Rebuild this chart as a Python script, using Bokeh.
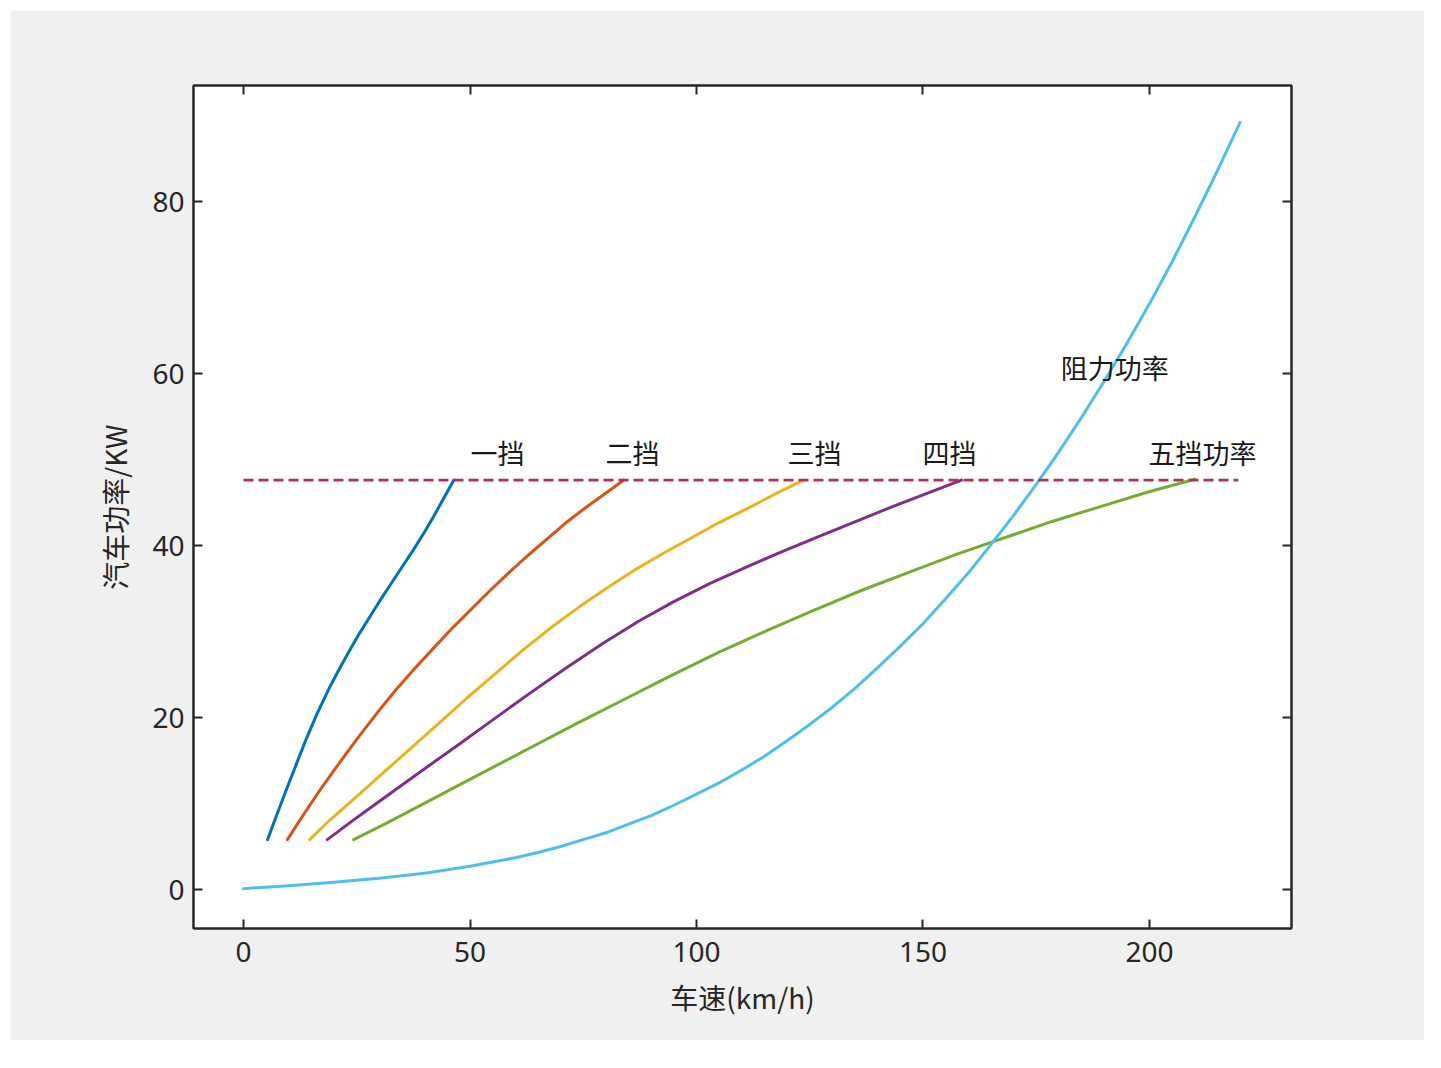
from bokeh.plotting import figure
from bokeh.models import Range1d, LinearAxis, FixedTicker
from bokeh.core.properties import value
from bokeh.embed import file_html
from bokeh.resources import INLINE

# ---- data ----
g1_v = [5.3, 7.0, 9.3, 11.9, 14.0, 16.2, 19.0, 21.0, 23.2, 25.5, 28.0, 30.0, 32.5, 35.0, 37.5, 40.0, 42.0, 44.2, 46.4]
g1_p = [5.8, 8.2, 11.4, 14.9, 17.7, 20.4, 23.5, 25.5, 27.6, 29.7, 31.8, 33.5, 35.5, 37.5, 39.5, 41.6, 43.4, 45.5, 47.6]

g2_v = [9.7, 12.6, 16.8, 21.0, 25.2, 30.2, 33.6, 37.8, 42.0, 46.1, 50.3, 54.5, 58.7, 62.9, 67.1, 71.3, 75.5, 79.7, 83.9]
g2_p = [5.8, 8.2, 11.5, 14.6, 17.6, 21.0, 23.2, 25.7, 28.1, 30.4, 32.6, 34.8, 36.9, 38.9, 40.8, 42.7, 44.4, 46.0, 47.6]

g3_v = [14.6, 18.5, 24.7, 30.9, 37.1, 43.3, 49.4, 55.6, 61.8, 68.0, 74.2, 80.3, 86.5, 92.7, 98.9, 105.1, 111.2, 117.4, 123.6]
g3_p = [5.8, 7.8, 10.7, 13.6, 16.5, 19.4, 22.3, 25.1, 27.9, 30.5, 32.9, 35.1, 37.2, 39.1, 40.9, 42.7, 44.3, 46.0, 47.6]

g4_v = [18.5, 23.8, 31.7, 39.6, 47.6, 55.5, 63.4, 71.3, 79.3, 87.2, 95.1, 103.0, 111.0, 118.9, 126.8, 134.7, 142.7, 150.6, 158.5]
g4_p = [5.8, 7.9, 10.9, 13.9, 16.9, 19.9, 22.9, 25.8, 28.6, 31.2, 33.5, 35.6, 37.5, 39.3, 41.0, 42.7, 44.4, 46.0, 47.6]

g5_v = [24.3, 31.5, 42.0, 52.5, 63.0, 73.5, 84.0, 94.5, 105.0, 115.5, 126.0, 136.5, 147.0, 157.5, 168.0, 178.5, 189.0, 199.5, 210.0]
g5_p = [5.8, 7.7, 10.6, 13.5, 16.4, 19.3, 22.1, 24.9, 27.6, 30.1, 32.5, 34.8, 36.9, 39.0, 40.9, 42.8, 44.5, 46.2, 47.7]

res_v = [0, 10, 20, 30, 40, 50, 55, 60, 65, 70, 75, 80, 85, 90, 95, 100, 105, 110, 115, 120, 125, 130,
         135, 140, 145, 150, 155, 160, 165, 170, 175, 180, 185, 190, 195, 200, 205, 210, 215, 220]
res_p = [0.1, 0.45, 0.85, 1.3, 1.9, 2.7, 3.2, 3.7, 4.3, 5.0, 5.8, 6.6, 7.6, 8.6, 9.8, 11.1, 12.4, 13.9, 15.5, 17.3, 19.2, 21.2,
         23.4, 25.8, 28.3, 30.9, 33.8, 36.8, 40.1, 43.5, 47.1, 50.9, 54.9, 59.1, 63.5, 68.1, 73.0, 78.2, 83.6, 89.2]

max_power = 47.6
max_v = [0.0, 219.6]

labels = ["一挡", "二挡", "三挡", "四挡", "五挡功率", "阻力功率"]
label_x = [50.1, 79.9, 120.1, 149.9, 199.8, 180.4]
label_y = [50.8, 50.8, 50.8, 50.8, 50.8, 60.7]

x_ticks = [0, 50, 100, 150, 200]
y_ticks = [0, 20, 40, 60, 80]

colors = ["#0072BD", "#D95319", "#EDB120", "#7E2F8E", "#77AC30", "#4DBEEE"]

TXT = "#262626"
NUM_FONT = "Noto Sans"
CJK_FONT = "Noto Sans CJK SC"

p = figure(width=1414, height=1030, output_backend="svg", toolbar_location=None,
           x_range=Range1d(-11.04, 231.35), y_range=Range1d(-4.53, 93.49),
           min_border_left=183, min_border_right=133, min_border_top=75, min_border_bottom=112,
           x_axis_label="车速(km/h)", y_axis_label="汽车功率/KW")
p.margin = (10, 0, 0, 10)
p.border_fill_color = "#f0f0f0"
p.background_fill_color = "white"
p.outline_line_color = TXT
p.outline_line_width = 2
p.grid.visible = False

for ax in (p.xaxis[0], p.yaxis[0]):
    ax.axis_line_color = TXT
    ax.axis_line_width = 2
    ax.major_tick_in = 9
    ax.major_tick_out = 0
    ax.major_tick_line_color = TXT
    ax.major_tick_line_width = 2
    ax.minor_tick_line_color = None
    ax.major_label_text_font = NUM_FONT
    ax.major_label_text_font_size = "28px"
    ax.major_label_text_color = TXT
    ax.axis_label_text_font = CJK_FONT
    ax.axis_label_text_font_size = "28px"
    ax.axis_label_text_font_style = "normal"
    ax.axis_label_text_color = TXT

p.xaxis[0].ticker = FixedTicker(ticks=x_ticks)
p.yaxis[0].ticker = FixedTicker(ticks=y_ticks)
p.xaxis[0].major_label_standoff = 13
p.yaxis[0].major_label_standoff = 9
p.xaxis[0].axis_label_standoff = 12
p.yaxis[0].axis_label_standoff = 14

for loc, tk in (("above", x_ticks), ("right", y_ticks)):
    ax = LinearAxis(ticker=FixedTicker(ticks=tk))
    ax.axis_line_color = TXT
    ax.axis_line_width = 2
    ax.major_tick_in = 9
    ax.major_tick_out = 0
    ax.major_tick_line_color = TXT
    ax.major_tick_line_width = 2
    ax.minor_tick_line_color = None
    ax.major_label_text_color = None
    ax.major_label_text_font_size = "1px"
    p.add_layout(ax, loc)

series = [(g1_v, g1_p), (g2_v, g2_p), (g3_v, g3_p), (g4_v, g4_p), (g5_v, g5_p), (res_v, res_p)]
for (xs, ys), c in zip(series, colors):
    p.line(xs, ys, line_color=c, line_width=3, line_join="round", line_cap="round")

p.line(max_v, [max_power, max_power], line_color="#B8304F", line_width=2.6, line_dash="10 5")

p.text(x=label_x, y=label_y, text=labels, text_font=value(CJK_FONT), text_font_size="27px",
       text_color="#1a1a1a", text_align="left", text_baseline="middle")

open("out.html", "w").write(file_html(p, INLINE))
